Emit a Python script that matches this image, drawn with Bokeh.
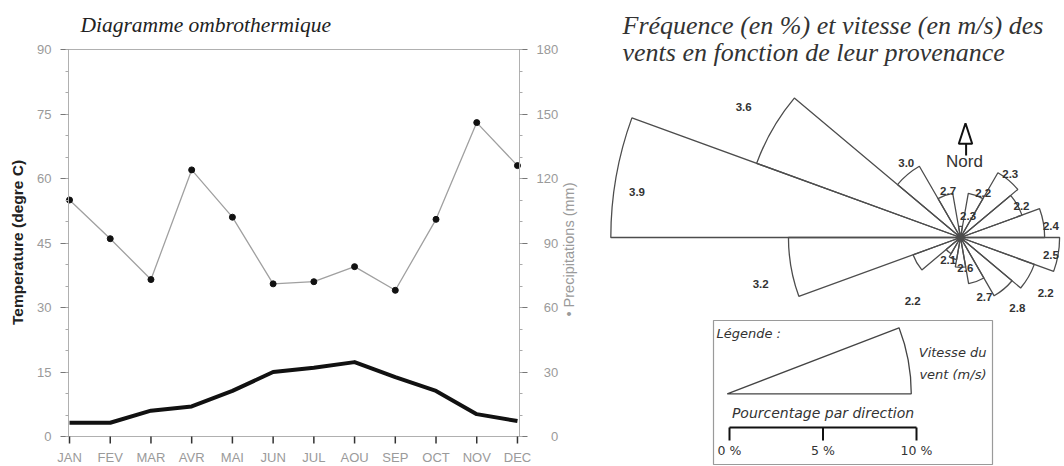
import math
from bokeh.plotting import figure
from bokeh.models import Range1d, LinearAxis, SingleIntervalTicker, ColumnDataSource
from bokeh.embed import file_html
from bokeh.resources import INLINE
from bokeh.core.properties import value

# ---------------- data ----------------
months = ["JAN", "FEV", "MAR", "AVR", "MAI", "JUN", "JUL", "AOU", "SEP", "OCT", "NOV", "DEC"]
temperature = [3.2, 3.2, 6.0, 7.0, 10.6, 15.0, 16.0, 17.3, 13.8, 10.6, 5.2, 3.6]      # degre C
precipitation = [110, 92, 73, 124, 102, 71, 72, 79, 68, 101, 146, 126]                 # mm
temp_range = [0, 90]
precip_range = [0, 180]

# wind rose: sector start angle (degrees, counter-clockwise from east), frequency (%), speed (m/s)
wind_sector_start = [0, 20, 40, 60, 80, 100, 120, 140, 160, 180, 200, 220, 240, 260, 280, 300, 320, 340]
wind_frequency = [4.5, 3.5, 4.0, 2.4, 0.6, 2.4, 4.4, 11.6, 18.7, 9.2, 2.7, 1.0, 1.2, 1.6, 2.5, 3.6, 4.2, 5.3]
wind_speed = [2.4, 2.2, 2.3, 2.2, 2.3, 2.7, 3.0, 3.6, 3.9, 3.2, 2.2, None, 2.1, 2.6, 2.7, 2.8, 2.2, 2.5]
legend_scale = [0, 5, 10]   # %

# ---------------- style / layout ----------------
GRAY = "#9a9a9a"
AXGRAY = "#b0b0b0"
SERIF = "Liberation Serif"
SANS = "Liberation Sans"
WIDE = "DejaVu Sans"
W, H = 1064, 466
AX_LEFT, AX_RIGHT = 68, 519                # pixel columns of the two y axes
AX_TOP, AX_BOTTOM = 49, 436                # pixel rows of 90 degC / 0 degC
SECTOR_WIDTH = 20
PX = 18.7                                  # pixels per % on the wind rose
ROSE_CX, ROSE_CY = 960, 237                # rose centre (px)
LABEL_SHIFT = [-3, -3, 2, -7, -19, -5, -4, -1, 2, 3, 23, 0, -9, 9, 2, -1, -3, -1]   # deg
LABEL_PAD = [7, 3, 6, 5, 12, 3, 10, 36, -23, 33, 29, 0, 3, 1, 17, 23, 23, -7]       # px

# ---------------- scales ----------------
plot_h = AX_BOTTOM - AX_TOP
upp = (temp_range[1] - temp_range[0]) / plot_h          # temp units per pixel
ppp = (precip_range[1] - precip_range[0]) / plot_h      # precip units per pixel
X0, X1 = -0.025, 11.05                                  # month units at the two axes
xpp = (X1 - X0) / (AX_RIGHT - AX_LEFT)


def tx(col_px):
    return X0 + (col_px - AX_LEFT) * xpp


def ty(row_px):
    return temp_range[1] - (row_px - AX_TOP) * upp


def rx(col_px):
    return (col_px - ROSE_CX) / PX


def ry(row_px):
    return (ROSE_CY - row_px) / PX


p = figure(width=W, height=H, title=None,
           x_range=Range1d(tx(0), tx(W)), y_range=Range1d(ty(H), ty(0)),
           x_axis_location=None, y_axis_location=None,
           output_backend="svg", toolbar_location=None, min_border=0)
p.extra_y_ranges = {"precip": Range1d(precip_range[0] - (H - AX_BOTTOM) * ppp,
                                      precip_range[1] + AX_TOP * ppp),
                    "rose_y": Range1d(ry(H), ry(0))}
p.extra_x_ranges = {"rose_x": Range1d(rx(0), rx(W))}
p.grid.visible = False
p.outline_line_color = None
p.background_fill_color = "white"
p.border_fill_color = "white"

# ---------------- left: ombrothermic diagram ----------------
x = list(range(len(months)))

ya = LinearAxis(bounds=tuple(temp_range), fixed_location=X0,
                ticker=SingleIntervalTicker(interval=15, num_minor_ticks=3))
ra = LinearAxis(y_range_name="precip", bounds=tuple(precip_range), fixed_location=X1,
                ticker=SingleIntervalTicker(interval=30, num_minor_ticks=3))
for ax in (ya, ra):
    ax.axis_line_color = AXGRAY
    ax.major_tick_line_color = "#777777"
    ax.major_tick_out = 8
    ax.major_tick_in = 0
    ax.minor_tick_line_color = "#aaaaaa"
    ax.minor_tick_out = 3
    ax.minor_tick_in = 0
    ax.major_label_standoff = 9
    ax.major_label_text_color = GRAY
    ax.major_label_text_font = SANS
    ax.major_label_text_font_size = "13px"
ra.major_label_overrides = {v: "\u2007" * (3 - len(str(v))) + str(v)
                            for v in range(precip_range[0], precip_range[1] + 1, 30)}
p.add_layout(ya, "left")
p.add_layout(ra, "right")

# axis titles
p.text([tx(17)], [ty(242)], text=["Temperature (degre C)"], angle=math.pi / 2,
       text_font=value(SANS), text_font_style="bold", text_font_size="15.5px",
       text_color="#222222", text_align="center", text_baseline="middle")
p.text([tx(568)], [ty(249)], text=["\u2022 Precipitations (mm)"], angle=math.pi / 2,
       text_font=value(SANS), text_font_size="14.5px", text_color=GRAY,
       text_align="center", text_baseline="middle")

# frame lines (top border and month axis)
p.segment(x0=[X0, X0], y0=[temp_range[1], temp_range[0]], x1=[X1, X1],
          y1=[temp_range[1], temp_range[0]], line_color=AXGRAY, line_width=1.2)
# month ticks and labels
p.segment(x0=x, y0=[0] * len(x), x1=x, y1=[ty(AX_BOTTOM + 7)] * len(x), line_color="#333333",
          line_width=1.5)
p.text(x, [ty(457)] * len(x), text=months, text_font=value(SANS), text_font_size="13px",
       text_color=GRAY, text_align="center", text_baseline="middle")
# title
p.text([tx(80)], [ty(24)], text=["Diagramme ombrothermique"],
       text_font=value(SERIF), text_font_style="italic", text_font_size="21.5px",
       text_color="#222222", text_align="left", text_baseline="alphabetic")

p.line(x, precipitation, y_range_name="precip", line_color="#a0a0a0", line_width=1.3)
p.scatter(x, precipitation, y_range_name="precip", size=6, fill_color="#111111",
          line_color="#111111")
p.line(x, temperature, line_color="#111111", line_width=4, line_join="round")

# ---------------- right: wind rose ----------------
R = dict(x_range_name="rose_x", y_range_name="rose_y")

src = ColumnDataSource(dict(
    r=wind_frequency,
    a0=[math.radians(a) for a in wind_sector_start],
    a1=[math.radians(a + SECTOR_WIDTH) for a in wind_sector_start],
))
p.wedge(x=0, y=0, radius="r", start_angle="a0", end_angle="a1", source=src,
        fill_color=None, line_color="#4d4d4d", line_width=1.3, **R)

lx, ly, lt = [], [], []
for a, f, s, sh, pad in zip(wind_sector_start, wind_frequency, wind_speed, LABEL_SHIFT, LABEL_PAD):
    if s is None:
        continue
    ang = math.radians(a + SECTOR_WIDTH / 2 + sh)
    rr = f + pad / PX
    lx.append(rr * math.cos(ang))
    ly.append(rr * math.sin(ang))
    lt.append(f"{s:.1f}")
p.text(lx, ly, text=lt, text_font=value(SANS), text_font_style="bold", text_font_size="11.5px",
       text_color="#333333", text_align="center", text_baseline="middle", **R)

# title
p.text([rx(622), rx(622)], [ry(25), ry(52)],
       text=["Fréquence (en %) et vitesse (en m/s) des", "vents en fonction de leur provenance"],
       text_font=value(SERIF), text_font_style="italic", text_font_size="26px",
       text_color="#333333", text_align="left", text_baseline="alphabetic", **R)

# north arrow
p.patch([rx(965), rx(958.3), rx(971.7)], [ry(122.7), ry(143.3), ry(143.3)], fill_color=None,
        line_color="#111111", line_width=2, **R)
p.segment(x0=[rx(965.6)], y0=[ry(143.3)], x1=[rx(965.6)], y1=[ry(155)], line_color="#111111",
          line_width=2, **R)
p.text([rx(964)], [ry(161)], text=["Nord"], text_font=value(SANS), text_font_size="17px",
       text_color="#333333", text_align="center", text_baseline="middle", **R)

# legend box
LX0 = rx(729)   # x of 0 %
p.quad(left=[rx(713)], right=[rx(992)], top=[ry(320)], bottom=[ry(464)], fill_color=None,
       line_color="#9a9a9a", line_width=1.2, **R)
p.wedge(x=LX0 - 0.12, y=ry(393.3), radius=legend_scale[-1] - 0.16, start_angle=0,
        end_angle=math.radians(21), fill_color=None, line_color="#444444", line_width=1.3, **R)
p.text([rx(716)], [ry(333)], text=["Légende :"], text_font=value(WIDE), text_font_style="italic",
       text_font_size="13px", text_color="#333333", text_align="left", text_baseline="middle", **R)
p.text([rx(986), rx(986)], [ry(352), ry(374)], text=["Vitesse du", "vent (m/s)"],
       text_font=value(WIDE), text_font_style="italic", text_font_size="13px",
       text_color="#333333", text_align="right", text_baseline="middle", **R)
p.text([LX0 + legend_scale[-1] / 2], [ry(412)], text=["Pourcentage par direction"],
       text_font=value(WIDE), text_font_style="italic", text_font_size="14px",
       text_color="#333333", text_align="center", text_baseline="middle", **R)
bar_y = ry(427)
p.segment(x0=[LX0 + legend_scale[0]], y0=[bar_y], x1=[LX0 + legend_scale[-1]], y1=[bar_y],
          line_color="#111111", line_width=2, **R)
p.segment(x0=[LX0 + v for v in legend_scale], y0=[bar_y] * 3,
          x1=[LX0 + v for v in legend_scale], y1=[ry(440)] * 3,
          line_color="#111111", line_width=2, **R)
p.text([LX0 + v for v in legend_scale], [ry(450)] * 3, text=[f"{v} %" for v in legend_scale],
       text_font=value(WIDE), text_font_size="12.5px", text_color="#333333",
       text_align="center", text_baseline="middle", **R)

open("out.html", "w").write(file_html(p, INLINE))
